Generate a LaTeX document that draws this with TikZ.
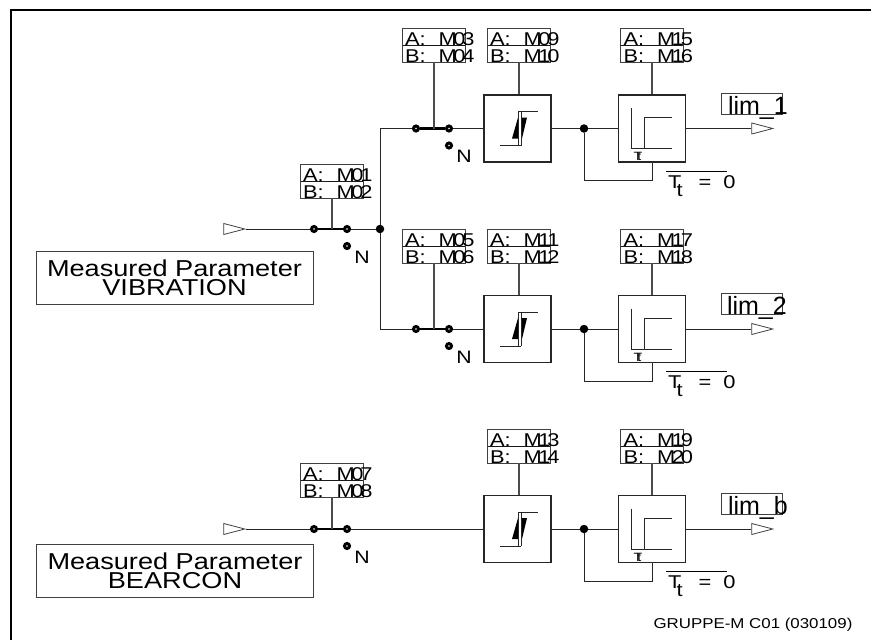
\documentclass[tikz,border=0pt]{standalone}
\usepackage{fontspec}
\setmainfont[FakeStretch=1.18]{Liberation Sans}
\newfontfamily\limfont{Liberation Sans}
\usetikzlibrary{positioning,shapes.geometric}
\newcommand{\mno}[2]{M\kern-3.5pt #1\kern-3pt #2}
\newcommand{\ablabel}[4]{\mbox{A:\hskip13pt\mno#1#2}\\\mbox{B:\hskip13pt\mno#3#4}}
\newcommand{\ttzero}{\mbox{\hskip2pt T\kern-5pt\lower8pt\hbox{t}\hskip16pt=\hskip12pt 0}}

\begin{document}
\begin{tikzpicture}[
  x=1pt, y=-1pt, on grid,
  wire/.style={line width=1pt, black!85},
  stem/.style={line width=2pt, black!70},
  link/.style={line width=2.2pt},
  block/.style={draw, line width=1.5pt, black!85, minimum size=67pt, inner sep=0pt},
  param/.style={draw=black!75, line width=.8pt, minimum width=63pt, inner xsep=3pt, inner ysep=0pt,
                text=black, text width=57pt, align=left, text height=17pt, text depth=17pt,
                font=\fontsize{18.5}{17}\selectfont,
                path picture={\draw[black!90, line width=.8pt] (path picture bounding box.west) -- (path picture bounding box.east);}},
  contact/.style={circle, draw, fill=white, line width=3pt, minimum size=5pt, inner sep=0pt},
  junct/.style={circle, fill, minimum size=8.5pt, inner sep=0pt},
  tri/.style={isosceles triangle, isosceles triangle apex angle=30, isosceles triangle stretches,
              draw=black!75, line width=.8pt, fill=white, minimum height=21pt, minimum width=11pt, inner sep=0pt},
  limbox/.style={draw=black!75, line width=.8pt, inner sep=0pt, text=black, text width=61pt, minimum width=61pt,
                 text height=21pt, text depth=0pt, align=left, font=\limfont\fontsize{25}{25}\selectfont},
  source/.style={draw=black!75, line width=.8pt, align=center, inner sep=0pt, minimum width=277pt, minimum height=53pt,
                 text=black, font=\fontsize{23}{19}\selectfont},
  nlabel/.style={font=\fontsize{18}{18}\selectfont, inner sep=0pt},
  tzero/.style={anchor=north west, inner sep=0pt, text width=61pt, minimum width=61pt, text height=17pt, text depth=0pt,
                align=left, font=\fontsize{18.5}{18}\selectfont},
  tsmall/.style={font=\fontsize{12}{12}\selectfont, inner sep=0pt}
]
\useasboundingbox (0,0) rectangle (871,640);
\draw[line width=2pt] (11,640) |- (871,10);

% input switches
\node[tri] (in1) at (228,229) {};
\node[contact] (s0a) at (314,229) {};
\node[contact, right=33pt of s0a] (s0b) {};
\node[contact, below=17pt of s0b] (s0n) {};
\node[nlabel, below right=11pt and 15pt of s0n] (n0) {N};
\node[junct, right=33pt of s0b] (j0) {};
\node[param] (p01) at (331.5,181) {\ablabel0102};
\node[source] (src1) at (174.5,277.5) {Measured Parameter\\VIBRATION};

\node[tri] (in3) at (228,529) {};
\node[contact] (s3a) at (314,529) {};
\node[contact, right=33pt of s3a] (s3b) {};
\node[contact, below=17pt of s3b] (s3n) {};
\node[nlabel, below right=11pt and 15pt of s3n] (n3) {N};
\node[param] (p07) at (331.5,480) {\ablabel0708};
\node[source] (src3) at (175,571) {Measured Parameter\\BEARCON};

% row 1
\node[contact] (s1a) at (416,128.5) {};
\node[contact, right=33pt of s1a] (s1b) {};
\node[contact, below=17pt of s1b] (s1n) {};
\node[nlabel, below right=11pt and 15pt of s1n] (n1) {N};
\node[block, right=68.5pt of s1b] (th1) {};
\node[junct, right=66.5pt of th1] (j1) {};
\node[block, right=68pt of j1] (tm1) {};
\node[tri, right=104pt of tm1] (out1) {};
\node[param] (p03) at (433.5,45) {\ablabel0304};
\node[param] (p09) at (518.5,45) {\ablabel0910};
\node[param] (p15) at (652,45) {\ablabel1516};
\node[limbox] (lim1) at (751.5,103.5) {\mbox{\hskip7pt lim\_1}};
\node[tzero] (tz1) at (666,171) {\ttzero};
\node[tsmall, below left=28pt and 14.5pt of tm1] (tt1) {T\kern-5pt t};

% row 2
\node[contact] (s2a) at (416,329) {};
\node[contact, right=33pt of s2a] (s2b) {};
\node[contact, below=17pt of s2b] (s2n) {};
\node[nlabel, below right=11pt and 15pt of s2n] (n2) {N};
\node[block, right=68.5pt of s2b] (th2) {};
\node[junct, right=66.5pt of th2] (j2) {};
\node[block, right=68pt of j2] (tm2) {};
\node[tri, right=104pt of tm2] (out2) {};
\node[param] (p05) at (433.5,246) {\ablabel0506};
\node[param] (p11) at (518.5,246) {\ablabel1112};
\node[param] (p17) at (652,246) {\ablabel1718};
\node[limbox] (lim2) at (751.5,304) {\mbox{\hskip6pt lim\_2}};
\node[tzero] (tz2) at (666,371) {\ttzero};
\node[tsmall, below left=28pt and 14.5pt of tm2] (tt2) {T\kern-5pt t};

% row 3
\node[block] (th3) at (517.5,529) {};
\node[junct, right=66.5pt of th3] (j3) {};
\node[block, right=68pt of j3] (tm3) {};
\node[tri, right=104pt of tm3] (out3) {};
\node[param] (p13) at (518.5,446) {\ablabel1314};
\node[param] (p19) at (652,446) {\ablabel1920};
\node[limbox] (lim3) at (751.5,504) {\mbox{\hskip7pt lim\_b}};
\node[tzero] (tz3) at (666,571) {\ttzero};
\node[tsmall, below left=28pt and 14.5pt of tm3] (tt3) {T\kern-5pt t};

\node[inner sep=0pt, font=\fontsize{14.3}{14}\selectfont] (foot) at (753,624.5) {GRUPPE-M C01 (030109)};

% wires
\draw[wire] (in1.apex) -- (s0a);
\draw[wire] (s0b) -- (j0);
\draw[wire] (s1a) -| (j0);
\draw[wire] (s2a) -| (j0);
\draw[wire] (in3.apex) -- (s3a);
\draw[wire] (s3b) -- (th3);
\foreach \r in {1,2} \draw[wire] (s\r b) -- (th\r);
\foreach \r in {1,2,3} {
  \coordinate[below=18pt of tm\r.south] (fb\r);
  \draw[wire] (th\r) -- (j\r);
  \draw[wire] (j\r) -- (tm\r);
  \draw[wire] (tm\r) -- (out\r.lower side);
  \draw[wire] (j\r) |- (fb\r) -- (tm\r.south);
  \draw[line width=.8pt] (tz\r.north west) -- (tz\r.north east);
}

% switch links
\draw[link] (s0a) -- (s0b);
\draw[link] (s1a) -- (s1b);
\draw[link] (s2a) -- (s2b);
\draw[link] (s3a) -- (s3b);
\draw[stem] (p01.south) -- (p01.south |- s0a);
\draw[stem] (p03.south) -- (p03.south |- s1a);
\draw[stem] (p05.south) -- (p05.south |- s2a);
\draw[stem] (p07.south) -- (p07.south |- s3a);
\draw[stem] (p09.south) -- (p09.south |- th1.north);
\draw[stem] (p11.south) -- (p11.south |- th2.north);
\draw[stem] (p13.south) -- (p13.south |- th3.north);
\draw[stem] (p15.south) -- (tm1.north);
\draw[stem] (p17.south) -- (tm2.north);
\draw[stem] (p19.south) -- (tm3.north);

% block symbols
\foreach \r in {1,2,3} {
  \begin{scope}[shift={(th\r.center)}]
    \fill (-5.5,10) -- (.5,-11) -- (9.5,-11) -- (4.5,10) -- cycle;
    \draw[white, line width=2.5pt] (2,-17) -- (2,17);
    \draw[wire] (.5,-17) -- (.5,17) (3.5,-17) -- (3.5,17);
    \draw[wire] (.5,-17) -- (20.5,-17) (-17.5,17) -- (3.5,17);
  \end{scope}
  \begin{scope}[shift={(tm\r.center)}]
    \draw[wire] (-21,-20.5) -- (-21,20) -- (20,20);
    \draw[wire] (-8,20) -- (-8,-11) -- (20,-11);
  \end{scope}
}
\end{tikzpicture}
\end{document}
